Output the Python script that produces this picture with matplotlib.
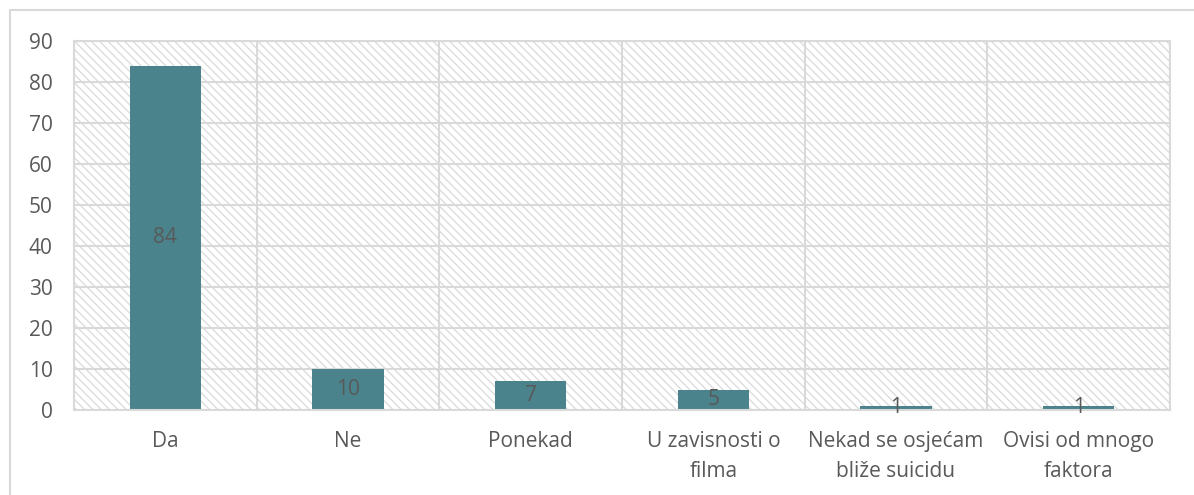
import matplotlib.pyplot as plt
from matplotlib.patches import Rectangle
import numpy as np

plt.rcParams['font.family'] = ['Open Sans', 'DejaVu Sans']

categories = ['Da', 'Ne', 'Ponekad', 'U zavisnosti o\nfilma',
              'Nekad se osjećam\nbliže suicidu', 'Ovisi od mnogo\nfaktora']
values = [84, 10, 7, 5, 1, 1]
yticks = [0, 10, 20, 30, 40, 50, 60, 70, 80, 90]

bar_color = '#4a838b'
text_color = '#595959'
grid_color = '#d9d9d9'

plt.rcParams['hatch.linewidth'] = 1.0
plt.rcParams['hatch.color'] = '#dcdcdc'

fig = plt.figure(figsize=(11.94, 4.95), dpi=100)

# outer chart frame (left/top edges visible)
frame = Rectangle((10 / 1194, -0.1), 1.2, 1 - 10 / 495 + 0.1, transform=fig.transFigure,
                  fill=False, edgecolor=grid_color, linewidth=1.5)
fig.patches.append(frame)

ax = fig.add_axes([74 / 1194, 1 - 410 / 495, (1170 - 74) / 1194, (410 - 41) / 495])
x = np.arange(len(categories))

# hatched plot area background
ax.add_patch(Rectangle((0, 0), 1, 1, transform=ax.transAxes, facecolor='white',
                       hatch='\\\\\\\\', edgecolor='#dcdcdc', linewidth=0, zorder=0))

for y in yticks:
    ax.axhline(y, color=grid_color, linewidth=1.5, zorder=1)
for b in np.arange(-0.5, len(categories) + 0.5, 1):
    ax.axvline(b, color=grid_color, linewidth=1.5, zorder=1)

bars = ax.bar(x, values, width=0.39, color=bar_color, zorder=2)
for rect, v in zip(bars, values):
    ax.text(rect.get_x() + rect.get_width() / 2, v / 2, str(v), ha='center', va='center',
            fontsize=15, color=text_color, zorder=3)

ax.set_xlim(-0.5, len(categories) - 0.5)
ax.set_ylim(0, 90)
ax.set_yticks(yticks)
ax.set_xticks(x)
ax.set_xticklabels(categories, fontsize=15, color=text_color, linespacing=1.6)
ax.tick_params(axis='y', labelsize=15, labelcolor=text_color, length=0, pad=15.5)
ax.tick_params(axis='x', length=0, pad=15)
for s in ax.spines.values():
    s.set_color(grid_color)
    s.set_linewidth(1.5)

fig.savefig('out.png', dpi=100)
